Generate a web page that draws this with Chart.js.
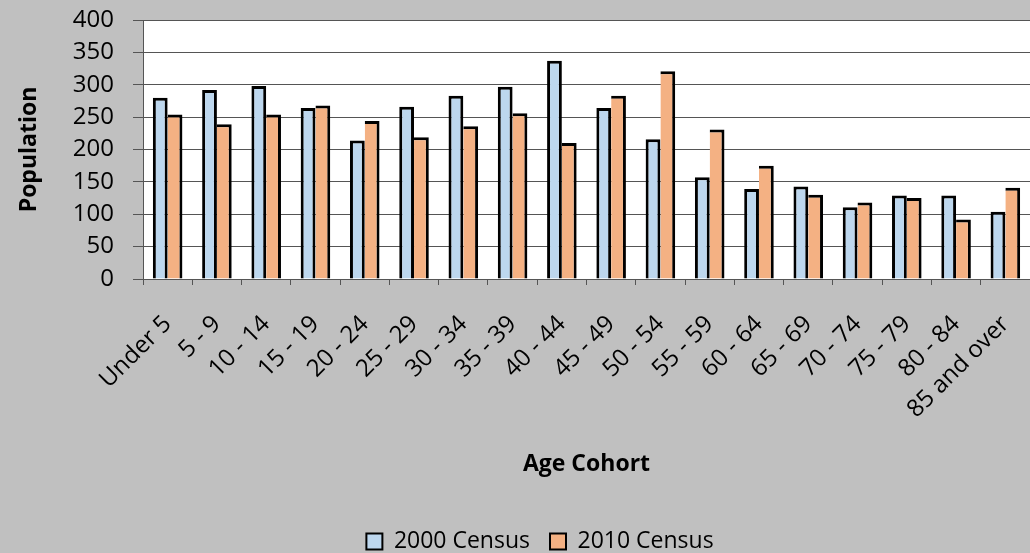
<!DOCTYPE html>
<html>
<head>
<meta charset="utf-8">
<script src="https://cdn.jsdelivr.net/npm/chart.js@4"></script>
<style>
  html, body { margin: 0; padding: 0; background: #c0c0c0; }
  #wrap { width: 1030px; height: 553px; }
</style>
</head>
<body>
<div id="wrap"><canvas id="cohorts" width="1030" height="553"></canvas></div>
<script>
// Population by age cohort, 2000 vs 2010 census
const cohorts = ['Under 5', '5 - 9', '10 - 14', '15 - 19', '20 - 24', '25 - 29', '30 - 34',
  '35 - 39', '40 - 44', '45 - 49', '50 - 54', '55 - 59', '60 - 64', '65 - 69', '70 - 74',
  '75 - 79', '80 - 84', '85 and over'];
const census2000 = [280, 292, 298, 264, 214, 266, 283, 297, 337, 264, 216, 157, 139, 143, 111, 129, 129, 104];
const census2010 = [254, 239, 254, 268, 244, 219, 236, 256, 210, 283, 321, 231, 175, 130, 118, 125, 92, 141];
const yTicks = [0, 50, 100, 150, 200, 250, 300, 350, 400];

const FONT = '"Open Sans", "Noto Sans", sans-serif';
const GRID = '#555555';

// white plot area on the grey page
const plotBg = {
  id: 'plotBg',
  beforeDraw(chart) {
    const { ctx, chartArea: a } = chart;
    ctx.save();
    ctx.fillStyle = '#ffffff';
    ctx.fillRect(a.left, a.top, a.right - a.left, a.bottom - a.top);
    ctx.restore();
  }
};

// legend sits a little right of the canvas centre in the original
const legendNudge = {
  id: 'legendNudge',
  afterLayout(chart) {
    chart.legend.left += 25;
    chart.legend.right += 25;
  }
};

// the two bars of a pair share one outline in the middle
function bars(label, data, fill, leftEdge) {
  return {
    label,
    data,
    backgroundColor: fill,
    borderColor: '#000000',
    borderWidth: { top: 3, right: 3, bottom: 0, left: leftEdge },
    categoryPercentage: 0.6,
    barPercentage: 1.0
  };
}

new Chart(document.getElementById('cohorts').getContext('2d'), {
  type: 'bar',
  data: {
    labels: cohorts,
    datasets: [
      bars('2000 Census', census2000, '#bdd7ee', 3),
      bars('2010 Census', census2010, '#f4b183', 0)
    ]
  },
  plugins: [plotBg, legendNudge],
  options: {
    responsive: false,
    animation: false,
    layout: { padding: { top: 20, right: 0, left: 0, bottom: -10 } },
    plugins: {
      tooltip: { enabled: false },
      legend: {
        position: 'bottom',
        labels: {
          color: '#000000',
          font: { family: FONT, size: 23 },
          boxWidth: 16,
          boxHeight: 16,
          padding: 20,
          generateLabels: (chart) =>
            Chart.defaults.plugins.legend.labels.generateLabels(chart).map((l) => ({ ...l, lineWidth: 2 }))
        }
      }
    },
    scales: {
      x: {
        grid: {
          offset: true,
          drawOnChartArea: false,
          drawTicks: true,
          tickLength: 6,
          color: GRID
        },
        border: { color: GRID, width: 1 },
        ticks: {
          color: '#000000',
          font: { family: FONT, size: 24 },
          minRotation: 45,
          maxRotation: 45,
          autoSkip: false,
          padding: 25
        },
        title: {
          display: true,
          text: 'Age Cohort',
          color: '#000000',
          font: { family: FONT, size: 23, weight: 'bold' },
          padding: { top: 0, bottom: 32 }
        },
        afterFit: (s) => {
          s.height = 231;
          s.paddingLeft = 0;
          s.paddingRight = 0;
        }
      },
      y: {
        min: 0,
        max: 400,
        afterBuildTicks: (s) => { s.ticks = yTicks.map((v) => ({ value: v })); },
        grid: { color: GRID, tickLength: 10, drawTicks: true },
        border: { color: GRID, width: 1 },
        ticks: {
          color: '#000000',
          font: { family: FONT, size: 24 },
          padding: 19,
          autoSkip: false
        },
        title: {
          display: true,
          text: 'Population',
          color: '#000000',
          font: { family: FONT, size: 23, weight: 'bold' },
          padding: { top: 16, bottom: 0 }
        },
        afterFit: (s) => {
          s.width = 143;
          s.paddingTop = 0;
          s.paddingBottom = 0;
        }
      }
    }
  }
});
</script>
</body>
</html>
